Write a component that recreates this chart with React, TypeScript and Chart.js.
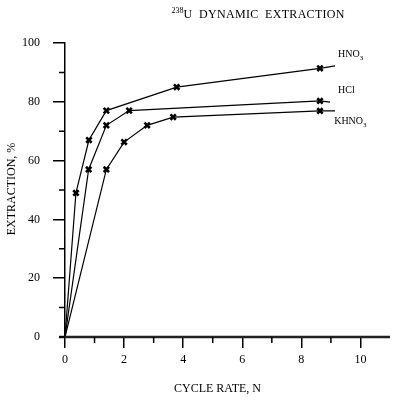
import React, { useEffect, useRef } from 'react';
import { Chart, registerables } from 'chart.js';

Chart.register(...registerables);

const FONT = '"Liberation Serif", "Times New Roman", serif';

// Data (x = cycle rate N, y = extraction %)
const hno3X = [0, 0.37, 0.81, 1.4, 3.78, 8.63, 9.14];
const hno3Y = [0, 49, 67, 77, 85, 91.4, 92.2];
const hclX = [0, 0.8, 1.4, 2.17, 8.63, 8.97];
const hclY = [0, 57, 72, 77, 80.3, 79.9];
const khno3X = [0, 1.4, 2.0, 2.78, 3.66, 8.63, 9.14];
const khno3Y = [0, 57, 66.3, 72, 74.8, 76.9, 76.9];

const seriesNames = ['HNO', 'HCl', 'KHNO'];
const seriesSubs = ['3', '', '3'];
const seriesLabelX = [9.24, 9.24, 9.11];
const seriesLabelY = [96, 84, 73.2];

const xMajorTicks = [0, 2, 4, 6, 8, 10];
const xMinorTicks = [1, 3, 5, 7, 9];
const yMajorTicks = [20, 40, 60, 80, 100];
const yMinorTicks = [0, 10, 30, 50, 70, 90];

const titleSup = '238';
const titleMain = 'U  DYNAMIC  EXTRACTION';
const xTitle = 'CYCLE RATE, N';
const yTitle = 'EXTRACTION, %';

export default function App() {
  const ref = useRef<HTMLCanvasElement>(null);

  useEffect(() => {
    document.body.style.margin = '0';
    const mk = (xs: number[], ys: number[]) => xs.map((x, i) => ({ x, y: ys[i] }));
    const radii = (n: number) =>
      Array.from({ length: n }, (_, i) => (i === 0 || i === n - 1 ? 0 : 3.8));
    const ds = (label: string, xs: number[], ys: number[]) => ({
      label,
      data: mk(xs, ys),
      showLine: true,
      borderColor: '#000',
      borderWidth: 1.2,
      pointStyle: 'crossRot',
      pointRadius: radii(xs.length),
      pointBorderWidth: 2.6,
      pointBorderColor: '#000',
      pointBackgroundColor: '#000',
      fill: false,
      tension: 0,
    });

    const deco = {
      id: 'deco',
      afterDraw(chart: any) {
        const { ctx } = chart;
        const xs = chart.scales.x;
        const ys = chart.scales.y;
        const x0 = xs.getPixelForValue(0);
        const y0 = ys.getPixelForValue(0);
        ctx.save();
        // x axis line
        ctx.strokeStyle = '#222';
        ctx.lineWidth = 2.5;
        ctx.beginPath();
        ctx.moveTo(x0 - 6, y0);
        ctx.lineTo(xs.right, y0);
        ctx.stroke();
        // minor ticks
        ctx.strokeStyle = '#000';
        ctx.lineWidth = 1.5;
        ctx.beginPath();
        for (const v of xMinorTicks) {
          const px = xs.getPixelForValue(v);
          ctx.moveTo(px, y0);
          ctx.lineTo(px, y0 + 6);
        }
        for (const v of yMinorTicks) {
          const py = ys.getPixelForValue(v);
          ctx.moveTo(x0 - 6, py);
          ctx.lineTo(x0, py);
        }
        ctx.stroke();

        ctx.fillStyle = '#000';
        ctx.textBaseline = 'alphabetic';
        // title
        ctx.textAlign = 'left';
        ctx.font = `8px ${FONT}`;
        ctx.fillText(titleSup, 171.5, 13);
        const tx = 171.5 + ctx.measureText(titleSup).width;
        ctx.font = `12px ${FONT}`;
        (ctx as any).letterSpacing = '0.3px';
        ctx.fillText(titleMain, tx, 18);
        (ctx as any).letterSpacing = '0px';

        // axis titles
        ctx.font = `12px ${FONT}`;
        ctx.textAlign = 'center';
        ctx.textBaseline = 'middle';
        ctx.fillText(xTitle, 217.5, 388.5);
        ctx.save();
        ctx.translate(12, 189);
        ctx.rotate(-Math.PI / 2);
        ctx.fillText(yTitle, 0, 0);
        ctx.restore();

        // series labels
        ctx.textAlign = 'left';
        ctx.textBaseline = 'middle';
        seriesNames.forEach((name, i) => {
          const px = xs.getPixelForValue(seriesLabelX[i]);
          const py = ys.getPixelForValue(seriesLabelY[i]);
          ctx.font = `10px ${FONT}`;
          ctx.fillText(name, px, py);
          if (seriesSubs[i]) {
            const w = ctx.measureText(name).width;
            ctx.font = `7px ${FONT}`;
            ctx.fillText(seriesSubs[i], px + w, py + 3);
          }
        });
        ctx.restore();
      },
    };

    const chart = new Chart(ref.current as HTMLCanvasElement, {
      type: 'scatter',
      data: {
        datasets: [
          ds('HNO3', hno3X, hno3Y),
          ds('HCl', hclX, hclY),
          ds('KHNO3', khno3X, khno3Y),
        ] as any,
      },
      options: {
        responsive: false,
        animation: false,
        devicePixelRatio: 1,
        layout: { padding: { left: 0, right: 8, top: 43, bottom: 0 } },
        plugins: { legend: { display: false }, tooltip: { enabled: false } },
        scales: {
          x: {
            type: 'linear',
            min: 0,
            max: 11,
            afterFit: (s: any) => {
              s.height = 63;
            },
            border: { display: false },
            grid: {
              drawOnChartArea: false,
              tickLength: 11,
              lineWidth: 1.5,
              tickColor: (c: any) =>
                c.tick && xMajorTicks.includes(c.tick.value) ? '#000' : 'rgba(0,0,0,0)',
            },
            ticks: {
              stepSize: 1,
              padding: 5,
              autoSkip: false,
              maxRotation: 0,
              color: '#000',
              font: { family: FONT, size: 12 },
              callback: (v: any) => (xMajorTicks.includes(Number(v)) ? String(v) : ''),
            },
          },
          y: {
            min: 0,
            max: 100,
            afterFit: (s: any) => {
              s.width = 65;
            },
            border: { display: true, color: '#000', width: 1.5 },
            grid: {
              drawOnChartArea: false,
              tickLength: 12,
              lineWidth: 1.5,
              tickColor: (c: any) =>
                c.tick && yMajorTicks.includes(c.tick.value) ? '#000' : 'rgba(0,0,0,0)',
            },
            ticks: {
              stepSize: 10,
              padding: 13,
              autoSkip: false,
              color: '#000',
              font: { family: FONT, size: 12 },
              callback: (v: any) =>
                Number(v) % 20 === 0 ? String(v) : '',
            },
          },
        },
      } as any,
      plugins: [deco],
    });
    return () => chart.destroy();
  }, []);

  return <canvas ref={ref} width={398} height={400} style={{ display: 'block' }} />;
}
